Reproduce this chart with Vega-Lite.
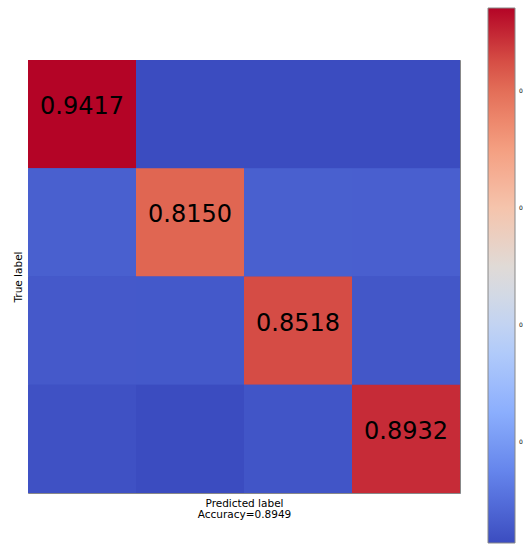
{
  "$schema": "https://vega.github.io/schema/vega-lite/v6.json",
  "width": 432,
  "height": 433,
  "autosize": {"type": "none"},
  "padding": {"left": 28, "top": 60, "right": 63, "bottom": 52},
  "background": "white",
  "config": {"view": {"stroke": "#888888", "strokeWidth": 1, "fill": "#4254c6"}, "font": "DejaVu Sans"},
  "data": {
    "values": [
      {"actual": 0, "predicted": 0, "value": 0.9417},
      {"actual": 0, "predicted": 1, "value": 0.027},
      {"actual": 0, "predicted": 2, "value": 0.028},
      {"actual": 0, "predicted": 3, "value": 0.027},
      {"actual": 1, "predicted": 0, "value": 0.069},
      {"actual": 1, "predicted": 1, "value": 0.8150},
      {"actual": 1, "predicted": 2, "value": 0.069},
      {"actual": 1, "predicted": 3, "value": 0.068},
      {"actual": 2, "predicted": 0, "value": 0.055},
      {"actual": 2, "predicted": 1, "value": 0.054},
      {"actual": 2, "predicted": 2, "value": 0.8518},
      {"actual": 2, "predicted": 3, "value": 0.050},
      {"actual": 3, "predicted": 0, "value": 0.038},
      {"actual": 3, "predicted": 1, "value": 0.028},
      {"actual": 3, "predicted": 2, "value": 0.046},
      {"actual": 3, "predicted": 3, "value": 0.8932}
    ]
  },
  "layer": [
    {
      "mark": {"type": "rect"},
      "encoding": {
        "x": {
          "field": "predicted", "type": "ordinal",
          "scale": {"paddingInner": 0, "paddingOuter": 0},
          "axis": {"title": ["Predicted label", "Accuracy=0.8949"], "labels": false, "ticks": false, "domain": false, "titleFont": "DejaVu Sans", "titleFontSize": 10.5, "titleFontWeight": "normal", "titleColor": "black", "titlePadding": 5, "titleLineHeight": 11.5}
        },
        "y": {
          "field": "actual", "type": "ordinal",
          "scale": {"paddingInner": 0, "paddingOuter": 0},
          "axis": {"title": "True label", "labels": false, "ticks": false, "domain": false, "titleFont": "DejaVu Sans", "titleFontSize": 10.5, "titleFontWeight": "normal", "titleColor": "black", "titlePadding": 5}
        },
        "color": {
          "field": "value", "type": "quantitative",
          "scale": {
            "domain": [0.027, 0.1413, 0.2557, 0.3700, 0.4844, 0.5987, 0.7130, 0.8274, 0.9417],
            "range": ["#3b4cc0", "#6282ea", "#8db0fe", "#b8d0f9", "#dddddd", "#f5c4ad", "#f49a7b", "#de604d", "#b40426"],
            "interpolate": "rgb"
          },
          "legend": {
            "orient": "none", "legendX": 460, "legendY": -52, "direction": "vertical",
            "gradientLength": 535, "gradientThickness": 27, "title": null,
            "values": [0.2, 0.4, 0.6, 0.8], "format": ".1f",
            "labelFontSize": 6, "labelOffset": 4, "labelColor": "black",
            "gradientStrokeColor": "#888888", "gradientStrokeWidth": 1,
            "padding": 0, "offset": 0
          }
        }
      }
    },
    {
      "transform": [{"filter": "datum.actual === datum.predicted"}],
      "mark": {"type": "text", "fontSize": 24, "font": "DejaVu Sans", "color": "black", "dy": -7},
      "encoding": {
        "x": {"field": "predicted", "type": "ordinal"},
        "y": {"field": "actual", "type": "ordinal"},
        "text": {"field": "value", "type": "quantitative", "format": ".4f"}
      }
    }
  ]
}
